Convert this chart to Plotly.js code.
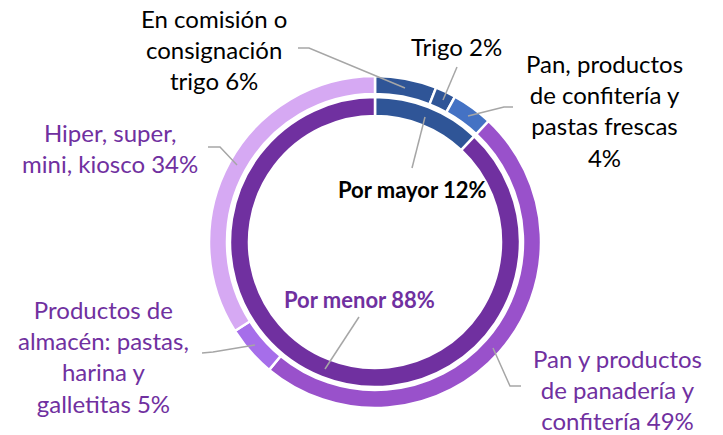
<!DOCTYPE html>
<html>
<head>
<meta charset="utf-8">
<script src="https://cdn.plot.ly/plotly-3.0.1.min.js"></script>
<style>html,body{margin:0;padding:0;background:#fff;}#chart{width:723px;height:435px;}</style>
</head>
<body>
<div id="chart"></div>
<script>
// ---- data ----
const innerLabels = ['Por mayor', 'Por menor'];
const innerValues = [12, 88];
const outerLabels = [
  'En comisión o consignación trigo',
  'Trigo',
  'Pan, productos de confitería y pastas frescas',
  'Pan y productos de panadería y confitería',
  'Productos de almacén: pastas, harina y galletitas',
  'Hiper, super, mini, kiosco'
];
const outerValues = [6, 2, 4, 49, 5, 34];
// label texts as displayed (line breaks as in the reference)
const outerText = [
  'En comisión o<br>consignación<br>trigo 6%',
  'Trigo 2%',
  'Pan, productos<br>de confitería y<br>pastas frescas<br>4%',
  'Pan y productos<br>de panadería y<br>confitería 49%',
  'Productos de<br>almacén: pastas,<br>harina y<br>galletitas 5%',
  'Hiper, super,<br>mini, kiosco 34%'
];
const innerText = ['<b>Por mayor 12%</b>', '<b>Por menor 88%</b>'];

// ---- styles ----
const outerColors = ['#2F5597', '#2F5597', '#4472C4', '#9951CB', '#A66EEA', '#D6A9F3'];
const innerColors = ['#2F5597', '#7030A0'];
const outerTextColors = ['#000', '#000', '#000', '#7030A0', '#7030A0', '#7030A0'];
const innerTextColors = ['#000', '#7030A0'];

const W = 723, H = 435;
const CX = 375, CY = 242;
const R_OUT = 166, R_OUT_HOLE = 148;
const R_IN = 145, R_IN_HOLE = 126;

function domainFor(r) {
  return {
    x: [(CX - r) / W, (CX + r) / W],
    y: [1 - (CY + r) / H, 1 - (CY - r) / H]
  };
}
const px = x => x / W;
const py = y => 1 - y / H;

// label placement (pixel centres) and leader line paths (pixels)
const outerLabelPos = [[214, 50], [456, 47], [604, 110], [617, 389], [103, 356], [110, 148]];
const innerLabelPos = [[412, 189], [359, 299]];
const outerLeaders = [
  [[298, 48], [309, 48], [405, 88]],
  [[457, 67], [443, 100]],
  [[513, 107], [504, 107], [468, 116]],
  [[493, 348], [510, 386], [521, 386]],
  [[202, 353], [213, 352], [255, 345]],
  [[208, 147], [220, 147], [237, 165]]
];
const innerLeaders = [
  [[425, 117], [412, 168]],
  [[359, 317], [325, 369]]
];

const FONT = 'Lato, "Open Sans", sans-serif';
const FS = 24;

const traces = [
  {
    type: 'pie', values: outerValues, labels: outerLabels, sort: false,
    direction: 'clockwise', rotation: 0, hole: R_OUT_HOLE / R_OUT,
    domain: domainFor(R_OUT), textinfo: 'none', hoverinfo: 'label+percent',
    marker: {colors: outerColors, line: {color: '#ffffff', width: 2.5}},
    showlegend: false
  },
  {
    type: 'pie', values: innerValues, labels: innerLabels, sort: false,
    direction: 'clockwise', rotation: 0, hole: R_IN_HOLE / R_IN,
    domain: domainFor(R_IN), textinfo: 'none', hoverinfo: 'label+percent',
    marker: {colors: innerColors, line: {color: '#ffffff', width: 2.5}},
    showlegend: false
  }
];

const annotations = [];
outerText.forEach((t, i) => annotations.push({
  text: t, x: px(outerLabelPos[i][0]), y: py(outerLabelPos[i][1]),
  xref: 'paper', yref: 'paper', xanchor: 'center', yanchor: 'middle',
  showarrow: false, align: 'center',
  font: {family: FONT, size: FS, color: outerTextColors[i]}
}));
innerText.forEach((t, i) => annotations.push({
  text: t, x: px(innerLabelPos[i][0]), y: py(innerLabelPos[i][1]),
  xref: 'paper', yref: 'paper', xanchor: 'center', yanchor: 'middle',
  showarrow: false, align: 'center',
  font: {family: FONT, size: 22, color: innerTextColors[i]}
}));

const shapes = outerLeaders.concat(innerLeaders).map(pts => ({
  type: 'path', xref: 'paper', yref: 'paper',
  path: pts.map((p, j) => (j ? 'L' : 'M') + px(p[0]) + ',' + py(p[1])).join(' '),
  line: {color: '#A6A6A6', width: 1.5}
}));

Plotly.newPlot('chart', traces, {
  width: W, height: H,
  margin: {l: 0, r: 0, t: 0, b: 0},
  paper_bgcolor: '#ffffff',
  annotations: annotations,
  shapes: shapes,
  showlegend: false
}, {displayModeBar: false, staticPlot: true});
</script>
</body>
</html>
